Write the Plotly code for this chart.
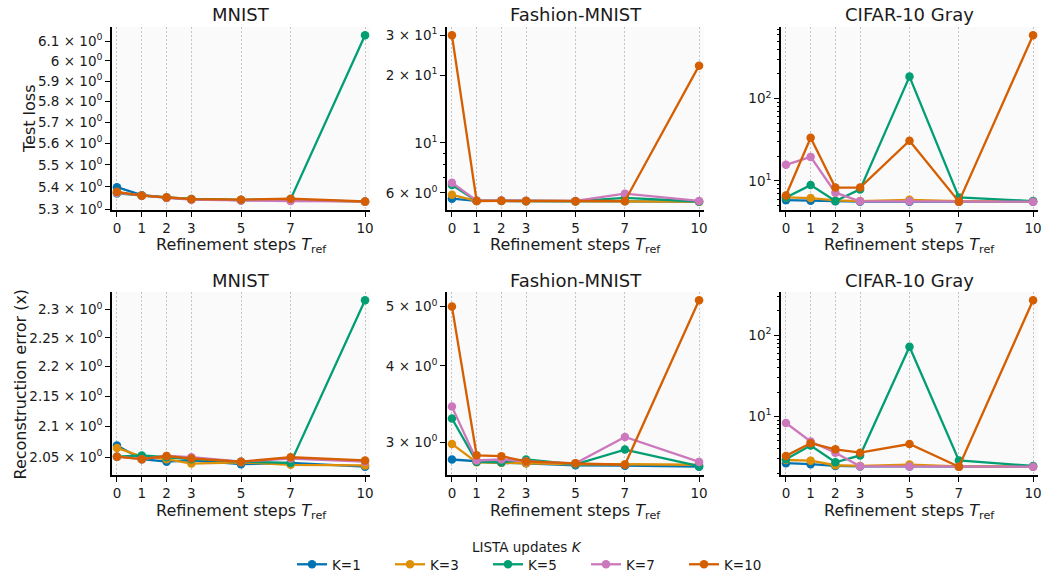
import numpy as np
import plotly.graph_objects as go

# ---------------- data ----------------
steps = [0, 1, 2, 3, 5, 7, 10]
k_labels = ["K=1", "K=3", "K=5", "K=7", "K=10"]
colors = ["#0173B2", "#DE8F05", "#029E73", "#CC78BC", "#D55E00"]
datasets = ["MNIST", "Fashion-MNIST", "CIFAR-10 Gray"]

# Test loss
mnist_loss_k1 = [5.398, 5.362, 5.352, 5.345, 5.340, 5.342, 5.333]
mnist_loss_k3 = [5.375, 5.361, 5.352, 5.345, 5.341, 5.340, 5.333]
mnist_loss_k5 = [5.370, 5.360, 5.351, 5.344, 5.340, 5.344, 6.130]
mnist_loss_k7 = [5.372, 5.360, 5.350, 5.342, 5.338, 5.336, 5.334]
mnist_loss_k10 = [5.377, 5.360, 5.352, 5.344, 5.342, 5.346, 5.334]

fashion_loss_k1 = [5.65, 5.52, 5.52, 5.51, 5.50, 5.50, 5.48]
fashion_loss_k3 = [5.88, 5.52, 5.52, 5.51, 5.50, 5.50, 5.48]
fashion_loss_k5 = [6.50, 5.53, 5.53, 5.52, 5.51, 5.70, 5.49]
fashion_loss_k7 = [6.65, 5.54, 5.54, 5.53, 5.52, 5.95, 5.52]
fashion_loss_k10 = [30.0, 5.52, 5.53, 5.52, 5.51, 5.52, 22.0]

cifar_loss_k1 = [5.85, 5.75, 5.65, 5.60, 5.60, 5.60, 5.60]
cifar_loss_k3 = [6.30, 6.20, 5.80, 5.70, 5.90, 5.70, 5.65]
cifar_loss_k5 = [6.30, 8.90, 5.70, 7.90, 185.0, 6.30, 5.70]
cifar_loss_k7 = [15.7, 19.6, 7.20, 5.65, 5.65, 5.60, 5.60]
cifar_loss_k10 = [6.65, 33.4, 8.30, 8.30, 30.8, 5.60, 587.0]

# Reconstruction error (x)
mnist_rec_k1 = [2.069, 2.047, 2.043, 2.045, 2.039, 2.041, 2.035]
mnist_rec_k3 = [2.065, 2.051, 2.047, 2.040, 2.042, 2.038, 2.037]
mnist_rec_k5 = [2.051, 2.053, 2.050, 2.047, 2.043, 2.041, 2.317]
mnist_rec_k7 = [2.051, 2.047, 2.052, 2.050, 2.043, 2.048, 2.043]
mnist_rec_k10 = [2.051, 2.047, 2.052, 2.048, 2.043, 2.050, 2.045]

fashion_rec_k1 = [2.81, 2.79, 2.775, 2.77, 2.75, 2.745, 2.735]
fashion_rec_k3 = [2.98, 2.78, 2.775, 2.77, 2.76, 2.76, 2.755]
fashion_rec_k5 = [3.28, 2.785, 2.78, 2.81, 2.76, 2.917, 2.74]
fashion_rec_k7 = [3.43, 2.80, 2.81, 2.79, 2.77, 3.06, 2.785]
fashion_rec_k10 = [5.00, 2.855, 2.845, 2.79, 2.77, 2.755, 5.12]

cifar_rec_k1 = [2.65, 2.58, 2.45, 2.42, 2.42, 2.40, 2.40]
cifar_rec_k3 = [2.90, 2.85, 2.50, 2.45, 2.55, 2.42, 2.42]
cifar_rec_k5 = [2.96, 4.37, 2.72, 3.30, 72.4, 2.87, 2.45]
cifar_rec_k7 = [8.30, 4.90, 3.57, 2.43, 2.42, 2.40, 2.40]
cifar_rec_k10 = [3.26, 4.68, 3.93, 3.57, 4.57, 2.40, 270.0]

# tick labels
mnist_loss_ticks = [5.3, 5.4, 5.5, 5.6, 5.7, 5.8, 5.9, 6.0, 6.1]
mnist_loss_ticktext = ["5.3", "5.4", "5.5", "5.6", "5.7", "5.8", "5.9", "6", "6.1"]
mnist_rec_ticks = [2.05, 2.1, 2.15, 2.2, 2.25, 2.3]
mnist_rec_ticktext = ["2.05", "2.1", "2.15", "2.2", "2.25", "2.3"]
fashion_loss_ticks = [6, 10, 20, 30]
fashion_loss_ticktext = ["6 × 10<sup>0</sup>", "10<sup>1</sup>", "2 × 10<sup>1</sup>", "3 × 10<sup>1</sup>"]
fashion_rec_ticks = [3, 4, 5]
fashion_rec_ticktext = ["3 × 10<sup>0</sup>", "4 × 10<sup>0</sup>", "5 × 10<sup>0</sup>"]
cifar_ticks = [10, 100]
cifar_ticktext = ["10<sup>1</sup>", "10<sup>2</sup>"]

loss_data = [
    [mnist_loss_k1, mnist_loss_k3, mnist_loss_k5, mnist_loss_k7, mnist_loss_k10],
    [fashion_loss_k1, fashion_loss_k3, fashion_loss_k5, fashion_loss_k7, fashion_loss_k10],
    [cifar_loss_k1, cifar_loss_k3, cifar_loss_k5, cifar_loss_k7, cifar_loss_k10],
]
rec_data = [
    [mnist_rec_k1, mnist_rec_k3, mnist_rec_k5, mnist_rec_k7, mnist_rec_k10],
    [fashion_rec_k1, fashion_rec_k3, fashion_rec_k5, fashion_rec_k7, fashion_rec_k10],
    [cifar_rec_k1, cifar_rec_k3, cifar_rec_k5, cifar_rec_k7, cifar_rec_k10],
]

W, H = 1051, 580
FONT = "DejaVu Sans"
TXT = "#1a1a1a"
GRID = "#c4c4c4"
GRID_DASH = "1.5px,2.5px"

x_dom = [[112 / W, 370 / W], [447 / W, 704 / W], [781 / W, 1038 / W]]
y_dom = [[1 - 210 / H, 1 - 27 / H], [1 - 475 / H, 1 - 292 / H]]

fig = go.Figure()


def log_range(series_list):
    vals = np.log10(np.concatenate([np.asarray(s, float) for s in series_list]))
    lo, hi = vals.min(), vals.max()
    m = 0.05 * (hi - lo)
    return [lo - m, hi + m]


def minor_log_ticks(rng, labelled):
    out = []
    for dec in range(-1, 4):
        for m in range(1, 10):
            v = m * 10 ** dec
            lv = np.log10(v)
            if rng[0] <= lv <= rng[1] and not any(abs(v - t) < 1e-9 for t in labelled):
                out.append(v)
    return out


def mathtext(lbls):
    return [l + " × 10<sup>0</sup>" for l in lbls]


tick_cfg = [
    [(mnist_loss_ticks, mathtext(mnist_loss_ticktext), False),
     (fashion_loss_ticks, fashion_loss_ticktext, True),
     (cifar_ticks, cifar_ticktext, True)],
    [(mnist_rec_ticks, mathtext(mnist_rec_ticktext), False),
     (fashion_rec_ticks, fashion_rec_ticktext, False),
     (cifar_ticks, cifar_ticktext, True)],
]

row_data = [loss_data, rec_data]
ann = []
for r in range(2):
    for c in range(3):
        idx = r * 3 + c + 1
        xa = "x" if idx == 1 else f"x{idx}"
        ya = "y" if idx == 1 else f"y{idx}"
        series = row_data[r][c]
        for k in range(5):
            fig.add_trace(go.Scatter(
                x=steps, y=series[k], mode="lines+markers",
                name=k_labels[k], legendgroup=k_labels[k],
                showlegend=(idx == 1),
                line=dict(color=colors[k], width=2.3),
                marker=dict(color=colors[k], size=8.5, symbol="circle"),
                xaxis=xa, yaxis=ya,
            ))
        rng = log_range(series)
        tv, tt, decgrid = tick_cfg[r][c]
        minor_vals = minor_log_ticks(rng, tv) if decgrid else []
        ykey = "yaxis" if idx == 1 else f"yaxis{idx}"
        xkey = "xaxis" if idx == 1 else f"xaxis{idx}"
        fig.layout[xkey] = dict(
            domain=x_dom[c], anchor=ya, range=[-0.2, 10.2],
            tickvals=steps, ticktext=[str(s) for s in steps],
            showgrid=True, gridcolor=GRID, griddash=GRID_DASH, gridwidth=0.8,
            showline=True, linecolor="black", linewidth=1.6,
            ticks="outside", ticklen=5, tickwidth=1.2, tickcolor="black",
            tickfont=dict(family=FONT, size=13.5, color=TXT),
            zeroline=False, automargin=False,
        )
        fig.layout[ykey] = dict(
            domain=y_dom[r], anchor=xa, type="log", range=rng,
            tickvals=tv, ticktext=tt, showgrid=False,
            showline=True, linecolor="black", linewidth=1.6,
            ticks="outside", ticklen=5, tickwidth=1.2, tickcolor="black",
            tickfont=dict(family=FONT, size=13.5, color=TXT),
            minor=dict(tickvals=minor_vals, ticks="outside", ticklen=2.5,
                       tickwidth=0.9, tickcolor="black", showgrid=False),
            zeroline=False, automargin=False,
        )
        if decgrid:
            for v in tv:
                if abs(np.log10(v) - round(np.log10(v))) < 1e-9:
                    fig.add_shape(type="line", xref=f"{xa} domain", x0=0, x1=1,
                                  yref=ya, y0=v, y1=v, layer="below",
                                  line=dict(color=GRID, width=0.8, dash=GRID_DASH))
        # subplot background
        fig.add_shape(type="rect", xref=f"{xa} domain", yref=f"{ya} domain",
                      x0=0, x1=1, y0=0, y1=1, layer="below",
                      fillcolor="#fafafa", line=dict(width=0))
        # titles
        xc = (x_dom[c][0] + x_dom[c][1]) / 2
        ann.append(dict(text=datasets[c], x=xc, y=y_dom[r][1] + 12 / H,
                        xref="paper", yref="paper", xanchor="center", yanchor="middle",
                        showarrow=False, font=dict(family=FONT, size=18, color=TXT)))
        ann.append(dict(text="Refinement steps <i>T</i><sub>ref</sub>", x=xc,
                        y=y_dom[r][0] - 36 / H, xref="paper", yref="paper",
                        xanchor="center", yanchor="middle", showarrow=False,
                        font=dict(family=FONT, size=16, color=TXT)))

ann.append(dict(text="Test loss", x=29 / W, y=1 - 119 / H, xref="paper", yref="paper",
                xanchor="center", yanchor="middle", textangle=-90, showarrow=False,
                font=dict(family=FONT, size=16, color=TXT)))
ann.append(dict(text="Reconstruction error (x)", x=19.5 / W, y=1 - 384 / H, xref="paper",
                yref="paper", xanchor="center", yanchor="middle", textangle=-90,
                showarrow=False, font=dict(family=FONT, size=16, color=TXT)))
# legend title
ann.append(dict(text="LISTA updates <i>K</i>", x=526.5 / W, y=1 - 547 / H, xref="paper",
                yref="paper", xanchor="center", yanchor="middle", showarrow=False,
                font=dict(family=FONT, size=13.5, color=TXT)))

fig.update_layout(
    width=W, height=H,
    margin=dict(l=0, r=0, t=0, b=0),
    paper_bgcolor="white", plot_bgcolor="rgba(0,0,0,0)",
    annotations=ann,
    legend=dict(
        orientation="h", x=292 / W, xanchor="left", y=0.0, yanchor="bottom",
        font=dict(family=FONT, size=13.5, color=TXT),
        itemwidth=30, entrywidth=53, entrywidthmode="pixels",
        bgcolor="rgba(0,0,0,0)",
    ),
    font=dict(family=FONT, color=TXT),
)

fig.write_html("out.html", config={"displayModeBar": False},
               post_script="document.body.style.margin='0px';"
                           "document.body.style.overflow='hidden';")
